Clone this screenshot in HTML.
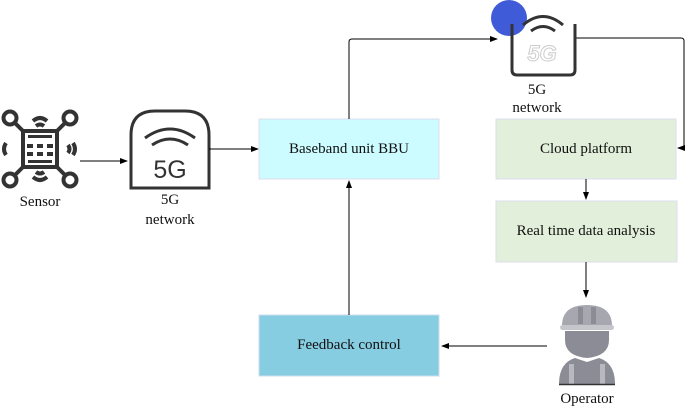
<!DOCTYPE html>
<html><head><style>
body{margin:0;width:685px;height:408px;background:#fff;overflow:hidden;position:relative}
svg{position:absolute;left:0;top:0}
.t{position:absolute;font-family:"Liberation Serif","Times New Roman","DejaVu Serif",serif;color:#111;font-size:15px;line-height:18px;text-align:center;white-space:nowrap;transform:translateX(-50%)}
</style></head><body>
<svg width="685" height="408" viewBox="0 0 685 408" xmlns="http://www.w3.org/2000/svg">
<defs><marker id="a" markerWidth="8" markerHeight="8" refX="7" refY="4" orient="auto" markerUnits="userSpaceOnUse"><path d="M0,1 L8,4 L0,7 Z" fill="#000"/></marker></defs>
<g stroke="#333" stroke-width="4" fill="none">
<circle cx="10" cy="118" r="6.5"/><circle cx="70" cy="118" r="6.5"/><circle cx="10" cy="180" r="6.5"/><circle cx="70" cy="180" r="6.5"/>
<line x1="15" y1="123" x2="24" y2="132"/><line x1="65" y1="123" x2="56" y2="132"/><line x1="15" y1="175" x2="24" y2="166"/><line x1="65" y1="175" x2="56" y2="166"/>
<rect x="23" y="131" width="34" height="36"/>
<path d="M33,121 Q40,115 47,121 M36,126 Q40,123 44,126"/>
<path d="M33,177 Q40,183 47,177 M36,172 Q40,175 44,172"/>
<path d="M6,143 Q2,149 6,155"/><path d="M73,143 Q77,149 73,155"/><path d="M68,145 Q71,149 68,153"/>
</g>
<g fill="#333"><rect x="27" y="144" width="6" height="4"/><rect x="37" y="144" width="6" height="4"/><rect x="47" y="144" width="6" height="4"/><rect x="27" y="152" width="6" height="4"/><rect x="37" y="152" width="6" height="4"/><rect x="47" y="152" width="6" height="4"/><rect x="28" y="135" width="24" height="3"/><rect x="28" y="160" width="24" height="3"/></g>
<line x1="80" y1="161" x2="127" y2="161" stroke="#000" marker-end="url(#a)"/>
<path d="M131,188 V135 Q131,111 155,111 H185 Q209,111 209,135 V188 Z" fill="none" stroke="#333" stroke-width="3"/>
<path d="M145,138 Q170,120 195,138 M152,145 Q170,133 188,145" fill="none" stroke="#333" stroke-width="3"/>
<text x="170" y="178" font-size="25" text-anchor="middle" font-family="Liberation Sans, sans-serif" fill="#333">5G</text>
<line x1="209" y1="149" x2="258" y2="149" stroke="#000" marker-end="url(#a)"/>
<rect x="259" y="119" width="180" height="60" fill="#ccfcff" stroke="#dde"/>
<rect x="496" y="119" width="180" height="60" fill="#e2efda" stroke="#dde"/>
<rect x="496" y="201" width="181" height="61" fill="#e2efda" stroke="#dde"/>
<rect x="259" y="315" width="180" height="61" fill="#87cde2" stroke="#cde"/>
<path d="M349,119 V42 Q349,39 352,39 H497" fill="none" stroke="#000" marker-end="url(#a)"/>
<path d="M576,38 H681 Q684,38 684,41 V145 Q684,148 681,148" fill="none" stroke="#000"/>
<line x1="684" y1="148" x2="678" y2="148" stroke="#000" marker-end="url(#a)"/>
<line x1="586" y1="179" x2="586" y2="199" stroke="#000" marker-end="url(#a)"/>
<line x1="586" y1="262" x2="586" y2="297" stroke="#000" marker-end="url(#a)"/>
<line x1="547" y1="346" x2="442" y2="346" stroke="#000" marker-end="url(#a)"/>
<line x1="349" y1="315" x2="349" y2="181" stroke="#000" marker-end="url(#a)"/>
<circle cx="509" cy="18" r="18" fill="#3f5bd8"/>
<path d="M512,24 V70 Q512,75 517,75 H570 Q575,75 575,70 V24" fill="none" stroke="#333" stroke-width="3"/>
<path d="M523,25 Q543,8 563,25 M531,31 Q543,22 555,31" fill="none" stroke="#333" stroke-width="3"/>
<text x="542" y="61" font-size="22" text-anchor="middle" font-style="italic" font-weight="bold" fill="none" stroke="#ccc" font-family="Liberation Sans, sans-serif">5G</text>
<g fill="#a7a7b0">
<path d="M562,326 Q562,305 587,305 Q612,305 612,326 Z"/>
<rect x="560" y="325" width="54" height="5" rx="2.5" fill="#c5c5cc"/>
<path d="M565,331 H609 V340 Q609,356 587,358 Q565,356 565,340 Z" fill="#8c8c96"/>
<path d="M559,384 Q559,363 575,358 L587,362 L599,358 Q615,363 615,384 Z" fill="#8c8c96"/>
<rect x="569" y="364" width="5" height="20" fill="#b8b8c0"/><rect x="600" y="364" width="5" height="20" fill="#b8b8c0"/>
<rect x="578" y="307" width="5" height="17" fill="#8c8c96"/><rect x="591" y="307" width="5" height="17" fill="#8c8c96"/>
</g>
<line x1="559" y1="384.5" x2="615" y2="384.5" stroke="#333" stroke-width="1.5"/>
</svg>
<div class="t" style="left:40px;top:193px">Sensor</div>
<div class="t" style="left:170px;top:191px">5G</div>
<div class="t" style="left:170px;top:211px">network</div>
<div class="t" style="left:349px;top:140px">Baseband unit BBU</div>
<div class="t" style="left:586px;top:140px">Cloud platform</div>
<div class="t" style="left:586px;top:222px">Real time data analysis</div>
<div class="t" style="left:349px;top:336px">Feedback control</div>
<div class="t" style="left:537px;top:81px">5G</div>
<div class="t" style="left:537px;top:99px">network</div>
<div class="t" style="left:587px;top:390px">Operator</div>
</body></html>
